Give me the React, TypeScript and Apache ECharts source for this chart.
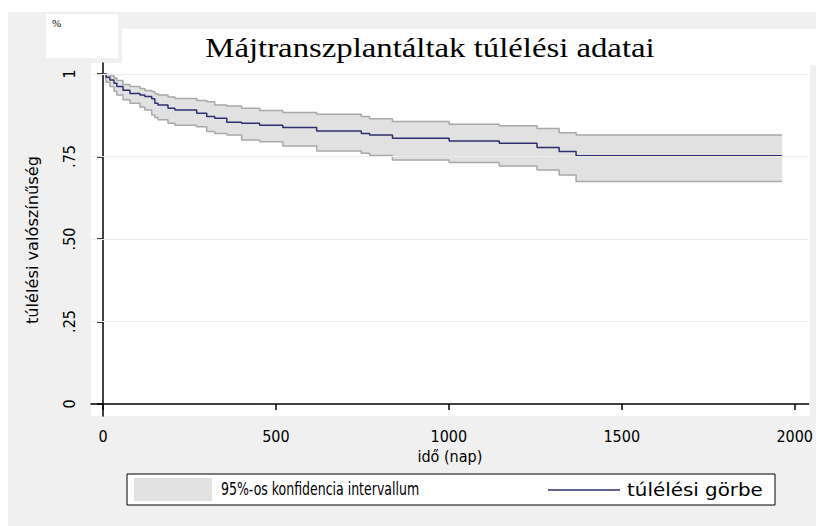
import React, { useEffect, useRef } from "react";
import * as echarts from "echarts";

const days = [0, 9, 20, 32, 40, 58, 78, 107, 121, 141, 150, 159, 188, 208, 271, 300, 323, 358, 401, 453, 520, 618, 747, 771, 837, 1001, 1146, 1255, 1319, 1368, 1963];
const survival = [1, 0.99, 0.982, 0.972, 0.962, 0.951, 0.941, 0.936, 0.932, 0.925, 0.911, 0.906, 0.896, 0.891, 0.881, 0.871, 0.866, 0.854, 0.851, 0.845, 0.838, 0.827, 0.82, 0.815, 0.805, 0.797, 0.79, 0.777, 0.765, 0.752, 0.752];
const lowerCI = [1, 0.975, 0.962, 0.948, 0.936, 0.922, 0.911, 0.9, 0.891, 0.876, 0.868, 0.861, 0.851, 0.845, 0.84, 0.826, 0.82, 0.815, 0.8, 0.795, 0.782, 0.767, 0.76, 0.753, 0.739, 0.732, 0.721, 0.709, 0.694, 0.674, 0.674];
const upperCI = [1, 0.998, 0.995, 0.988, 0.98, 0.968, 0.962, 0.956, 0.95, 0.947, 0.94, 0.936, 0.93, 0.926, 0.92, 0.916, 0.906, 0.903, 0.896, 0.889, 0.883, 0.878, 0.871, 0.864, 0.856, 0.848, 0.843, 0.835, 0.822, 0.815, 0.815];

const xTicks = [0, 500, 1000, 1500, 2000];
const yTicks = [0, 0.25, 0.5, 0.75, 1];
const yTickLabels = ["0", ".25", ".50", ".75", "1"];
const gridValues = [0.25, 0.5, 0.75, 1];

const titleText = "Májtranszplantáltak túlélési adatai";
const xName = "idő (nap)";
const yName = "túlélési valószínűség";
const bandName = "95%-os konfidencia intervallum";
const curveName = "túlélési görbe";

const NARROW = "'DejaVu Sans Condensed', 'Liberation Sans', sans-serif";
const BAND_FILL = "#e1e1e1";
const BAND_EDGE = "#a9a9a9";
const CURVE = "#2e2e72";

export default function App() {
  const ref = useRef<HTMLDivElement>(null);
  useEffect(() => {
    if (!ref.current) return;
    const chart = echarts.init(ref.current, null, { renderer: "svg" });

    const bandData = days.slice(0, -1).map((d, i) => [d, days[i + 1], lowerCI[i], upperCI[i]]);

    const option: any = {
      animation: false,
      backgroundColor: "#ffffff",
      graphic: [
        { type: "rect", z: -10, shape: { x: 8, y: 12, width: 808, height: 514 }, style: { fill: "#f0f0f0" }, silent: true },
        { type: "rect", z: -9, shape: { x: 46, y: 14, width: 72, height: 44 }, style: { fill: "#ffffff" }, silent: true },
        { type: "rect", z: -9, shape: { x: 122, y: 29, width: 694, height: 36 }, style: { fill: "#ffffff" }, silent: true },
        { type: "rect", z: -9, shape: { x: 91, y: 63, width: 719, height: 353 }, style: { fill: "#ffffff" }, silent: true },
        { type: "text", z: 10, x: 52, y: 17, style: { text: "%", fontSize: 11, fontFamily: "'Liberation Serif', serif", fill: "#000" } },
        { type: "text", z: 10, x: 430, y: 48, scaleX: 1.17, style: { text: titleText, fontSize: 28, fontFamily: "'Liberation Serif', serif", fill: "#000", align: "center", verticalAlign: "middle" } },
        { type: "text", z: 10, x: 33, y: 240, rotation: Math.PI / 2, scaleX: 1.2, style: { text: yName, fontSize: 15, fontFamily: NARROW, fill: "#000", align: "center", verticalAlign: "middle" } },
        { type: "rect", z: 10, shape: { x: 127, y: 474, width: 648, height: 31 }, style: { fill: "#ffffff", stroke: "#000", lineWidth: 1 } },
        { type: "rect", z: 11, shape: { x: 134, y: 478, width: 78, height: 23 }, style: { fill: BAND_FILL } },
        { type: "text", z: 11, x: 221, y: 490, scaleX: 0.82, style: { text: bandName, fontSize: 17, fontFamily: NARROW, fill: "#000", verticalAlign: "middle" } },
        { type: "line", z: 11, shape: { x1: 548, y1: 490, x2: 620, y2: 490 }, style: { stroke: CURVE, lineWidth: 1.5 } },
        { type: "text", z: 11, x: 627, y: 490, scaleX: 1.3, style: { text: curveName, fontSize: 17, fontFamily: NARROW, fill: "#000", verticalAlign: "middle" } },
      ],
      grid: { left: 91, right: 6, top: 63, bottom: 110, containLabel: false },
      xAxis: {
        type: "value",
        min: -34.6,
        max: 2040.4,
        name: xName,
        nameLocation: "middle",
        nameGap: 25,
        nameTextStyle: { fontSize: 16, fontFamily: NARROW, color: "#000" },
        axisLine: { show: true, lineStyle: { color: "#000", width: 1.5 } },
        axisTick: { show: true, customValues: xTicks, length: 6, lineStyle: { color: "#000", width: 1.5 } },
        axisLabel: { show: true, customValues: xTicks, fontSize: 16, fontFamily: NARROW, color: "#000", margin: 12, formatter: (v: number) => String(Math.round(v)) },
        splitLine: { show: false },
      },
      yAxis: {
        type: "value",
        min: -0.0364,
        max: 1.0333,
        axisLine: { show: true, lineStyle: { color: "#000", width: 1.5 } },
        axisTick: { show: true, customValues: yTicks, length: 6, lineStyle: { color: "#000", width: 1.5 } },
        axisLabel: {
          show: true,
          customValues: yTicks,
          rotate: 90,
          fontSize: 16,
          fontFamily: NARROW,
          color: "#000",
          margin: 14,
          formatter: (v: number) => {
            const i = yTicks.findIndex((t) => Math.abs(t - v) < 1e-6);
            return i >= 0 ? yTickLabels[i] : "";
          },
        },
        splitLine: { show: false },
      },
      series: [
        {
          type: "line",
          name: "grid",
          data: [],
          z: 1,
          silent: true,
          markLine: {
            silent: true,
            symbol: ["none", "none"],
            label: { show: false },
            lineStyle: { color: "#ededed", width: 1, type: "solid" },
            data: gridValues.map((v) => ({ yAxis: v })),
          },
        },
        {
          type: "custom",
          name: bandName,
          z: 2,
          silent: true,
          data: bandData,
          encode: { x: [0, 1], y: [2, 3] },
          renderItem: (params: any, api: any) => {
            const p0 = api.coord([api.value(0), api.value(3)]);
            const p1 = api.coord([api.value(1), api.value(2)]);
            return {
              type: "rect",
              shape: { x: p0[0], y: p0[1], width: p1[0] - p0[0], height: p1[1] - p0[1] },
              style: { fill: BAND_FILL, stroke: BAND_FILL, lineWidth: 0.8 },
            };
          },
        },
        {
          type: "line",
          name: "lower",
          step: "end",
          symbol: "none",
          z: 3,
          lineStyle: { color: BAND_EDGE, width: 1.5 },
          data: days.map((d, i) => [d, lowerCI[i]]),
        },
        {
          type: "line",
          name: "upper",
          step: "end",
          symbol: "none",
          z: 3,
          lineStyle: { color: BAND_EDGE, width: 1.5 },
          data: days.map((d, i) => [d, upperCI[i]]),
        },
        {
          type: "line",
          name: curveName,
          step: "end",
          symbol: "none",
          z: 4,
          lineStyle: { color: CURVE, width: 1.5 },
          data: days.map((d, i) => [d, survival[i]]),
        },
      ],
    };
    chart.setOption(option);
    return () => chart.dispose();
  }, []);
  return <div ref={ref} style={{ position: "fixed", left: 0, top: 0, width: 816, height: 526 }} />;
}
